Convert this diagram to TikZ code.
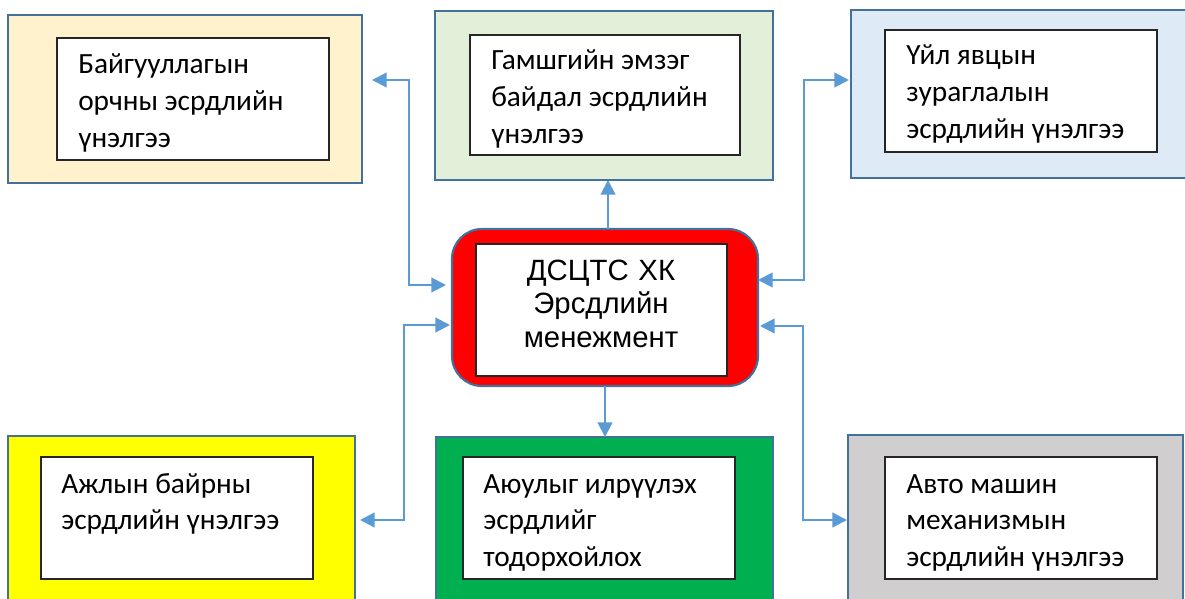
\documentclass[tikz,border=0pt]{standalone}
\usepackage{fontspec}
\setmainfont{Carlito}
\newfontfamily\arialfont{Liberation Sans}
\usetikzlibrary{arrows.meta}
\definecolor{bordc}{HTML}{41719C}
\definecolor{arrc}{HTML}{5B9BD5}
\definecolor{cTL}{HTML}{FFF2CC}
\definecolor{cTM}{HTML}{E2F0D9}
\definecolor{cTR}{HTML}{DEEBF7}
\definecolor{cBL}{HTML}{FFFF00}
\definecolor{cBM}{HTML}{00B050}
\definecolor{cBR}{HTML}{D0CECE}
\definecolor{inbord}{HTML}{262626}
\tikzset{
  outerbox/.style={draw=bordc, line width=1.6pt},
  innerbox/.style={draw=inbord, fill=white, line width=0.9pt},
  boxtext/.style={anchor=base west, inner sep=0pt, text width=260*0.75pt, align=flush left,
    font=\fontsize{22}{27.4}\selectfont},
  conn/.style={draw=arrc, line width=1.6pt, -{Triangle[length=11pt,width=11pt]}},
  conn2/.style={draw=arrc, line width=1.6pt, {Triangle[length=11pt,width=11pt]}-{Triangle[length=11pt,width=11pt]}}
}
\begin{document}
\begin{tikzpicture}[x=0.75pt,y=-0.75pt]
\useasboundingbox (0,0) rectangle (1185,599);
\clip (0,0) rectangle (1185,599);
\fill[white] (0,0) rectangle (1185,599);
% outer boxes
\draw[outerbox, fill=cTL] (8,15) rectangle (362,183);
\coordinate (tlE) at (362,80);
\draw[outerbox, fill=cTM] (435,11) rectangle (773,180);
\coordinate (tmS) at (608,180);
\draw[outerbox, fill=cTR] (851,10) rectangle (1200,178);
\coordinate (trW) at (851,80);
\draw[outerbox, fill=cBL] (8,436) rectangle (355,620);
\coordinate (blE) at (355,520);
\draw[outerbox, fill=cBM] (436,437) rectangle (773,620);
\coordinate (bmN) at (605,437);
\draw[outerbox, fill=cBR] (848,435) rectangle (1183,620);
\coordinate (brW) at (848,520);
% center
\draw[outerbox, fill=red, rounded corners=30*0.75pt] (452,229) rectangle (758,386);
\coordinate (cN) at (608,229);
\coordinate (cS) at (605,386);
\coordinate (cW1) at (452,285);
\coordinate (cW2) at (452,325);
\coordinate (cE1) at (758,280);
\coordinate (cE2) at (758,326);
% inner boxes
\draw[innerbox] (57,38) rectangle (329,160);
\draw[innerbox] (470,35) rectangle (740,155);
\draw[innerbox] (885,30) rectangle (1157,152);
\draw[innerbox] (41,457) rectangle (313,579);
\draw[innerbox] (463,457) rectangle (735,579);
\draw[innerbox] (885,457) rectangle (1157,579);
\draw[innerbox] (476,244) rectangle (727,376);
% texts
\node[boxtext] (tTL) at (78,74) {Байгууллагын\\орчны эсрдлийн\\үнэлгээ};
\node[boxtext] (tTM) at (491,70) {Гамшгийн эмзэг\\байдал эсрдлийн\\үнэлгээ};
\node[boxtext] (tTR) at (906,65) {Үйл явцын\\зураглалын\\эсрдлийн үнэлгээ};
\node[boxtext] (tBL) at (61,493) {Ажлын байрны\\эсрдлийн үнэлгээ};
\node[boxtext] (tBM) at (483,493) {Аюулыг илрүүлэх\\эсрдлийг\\тодорхойлох};
\node[boxtext] (tBR) at (906,493) {Авто машин\\механизмын\\эсрдлийн үнэлгээ};
\node[anchor=base, inner sep=0pt, text width=250*0.75pt, align=center,
  font=\arialfont\fontsize{22}{25.3}\selectfont] (tC) at (601,280)
  {ДСЦТС ХК\\Эрсдлийн\\менежмент};
% connectors
\draw[conn] (cN) -- (tmS);
\draw[conn] (cS) -- (bmN);
\draw[conn2] ([xshift=10*0.75pt]tlE) -- (409,80) -- (409,285) -- ([xshift=-6*0.75pt]cW1);
\draw[conn2] ([xshift=-2*0.75pt]trW) -- (804,80) -- (804,280) -- ([xshift=0*0.75pt]cE1);
\draw[conn2] ([xshift=5*0.75pt]blE) -- (404,520) -- (404,325) -- ([xshift=-2*0.75pt]cW2);
\draw[conn2] ([xshift=-1*0.75pt]brW) -- (803,520) -- (803,326) -- ([xshift=2*0.75pt]cE2);
\end{tikzpicture}
\end{document}
